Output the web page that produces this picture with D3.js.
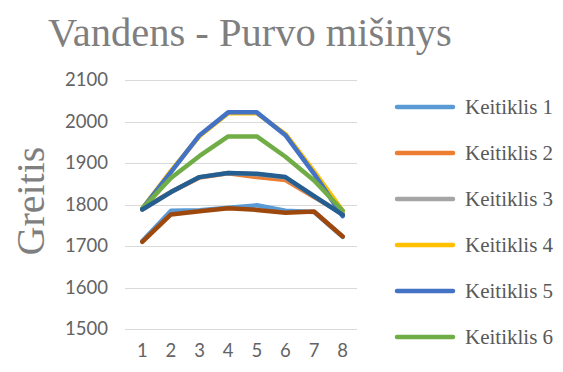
<!DOCTYPE html>
<html>
<head>
<meta charset="utf-8">
<script src="https://cdn.jsdelivr.net/npm/d3@7"></script>
<style>
  html, body { margin: 0; padding: 0; background: #fff; }
  svg { display: block; }
</style>
</head>
<body>
<svg id="chart" width="563" height="372"></svg>
<script>
// Measurement points along the x axis
const categories = ["1", "2", "3", "4", "5", "6", "7", "8"];

// Speed readings per converter (Keitiklis)
const keitiklis1 = [1712, 1785, 1786, 1792, 1798, 1785, 1782, 1722];
const keitiklis2 = [1790, 1830, 1865, 1875, 1866, 1859, 1818, 1778];
const keitiklis3 = [1788, 1830, 1866, 1876, 1873, 1865, 1820, 1776];
const keitiklis4 = [1790, 1881, 1965, 2020, 2020, 1970, 1880, 1785];
const keitiklis5 = [1790, 1878, 1967, 2022, 2022, 1967, 1874, 1772];
const keitiklis6 = [1790, 1864, 1917, 1964, 1964, 1915, 1858, 1785];
const keitiklis7 = [1788, 1830, 1866, 1876, 1874, 1866, 1820, 1775];
const keitiklis8 = [1710, 1776, 1784, 1791, 1787, 1780, 1783, 1723];

const seriesNames = ["Keitiklis 1", "Keitiklis 2", "Keitiklis 3", "Keitiklis 4",
                     "Keitiklis 5", "Keitiklis 6", "Keitiklis 7", "Keitiklis 8"];
const seriesValues = [keitiklis1, keitiklis2, keitiklis3, keitiklis4,
                      keitiklis5, keitiklis6, keitiklis7, keitiklis8];
const seriesColors = ["#5B9BD5", "#ED7D31", "#A5A5A5", "#FFC000",
                      "#4472C4", "#70AD47", "#255E91", "#9E480E"];

const yTicks = [1500, 1600, 1700, 1800, 1900, 2000, 2100];
const legendCount = 6;

const svg = d3.select("#chart");

const x = d3.scaleBand().domain(categories).range([128, 357]).padding(0);
const y = d3.scaleLinear().domain([1500, 2100]).range([329, 80]);

// Title
svg.append("text")
  .attr("x", 48).attr("y", 46)
  .attr("font-family", "'Liberation Serif', 'Times New Roman', serif")
  .attr("font-size", 40.5)
  .attr("fill", "#7f7f7f")
  .text("Vandens - Purvo mišinys");

// Axis title
svg.append("text")
  .attr("transform", "translate(44,201) rotate(-90)")
  .attr("text-anchor", "middle")
  .attr("font-family", "'Liberation Serif', 'Times New Roman', serif")
  .attr("font-size", 40)
  .attr("fill", "#7f7f7f")
  .text("Greitis");

// Horizontal gridlines
svg.append("g")
  .selectAll("line")
  .data(yTicks)
  .join("line")
  .attr("x1", 125).attr("x2", 357)
  .attr("y1", d => Math.round(y(d)) + 0.5)
  .attr("y2", d => Math.round(y(d)) + 0.5)
  .attr("stroke", "#d9d9d9")
  .attr("stroke-width", 1);

// Y axis labels
const yAxis = d3.axisLeft(y).tickValues(yTicks).tickSize(0).tickPadding(0).tickFormat(d3.format("d"));
const gy = svg.append("g").attr("transform", "translate(108,0)").call(yAxis);
gy.select(".domain").remove();
gy.selectAll("text")
  .attr("font-family", "Lato, 'Open Sans', sans-serif")
  .attr("font-size", 18.5)
  .attr("fill", "#636363");

// X axis labels
const xAxis = d3.axisBottom(x).tickSize(0).tickPadding(0);
const gx = svg.append("g").attr("transform", "translate(0,344)").call(xAxis);
gx.select(".domain").remove();
gx.selectAll("text")
  .attr("font-family", "Lato, 'Open Sans', sans-serif")
  .attr("font-size", 18.5)
  .attr("fill", "#636363");

// Series lines
const line = d3.line()
  .x((d, i) => x(categories[i]) + x.bandwidth() / 2)
  .y(d => y(d));

svg.append("g")
  .selectAll("path")
  .data(seriesValues)
  .join("path")
  .attr("d", d => line(d))
  .attr("fill", "none")
  .attr("stroke", (d, i) => seriesColors[i])
  .attr("stroke-width", 4.5)
  .attr("stroke-linejoin", "round")
  .attr("stroke-linecap", "round");

// Legend
const legend = svg.append("g")
  .selectAll("g")
  .data(seriesNames.slice(0, legendCount))
  .join("g")
  .attr("transform", (d, i) => `translate(397,${107 + i * 46})`);

legend.append("line")
  .attr("x1", 0).attr("x2", 56)
  .attr("y1", 0).attr("y2", 0)
  .attr("stroke", (d, i) => seriesColors[i])
  .attr("stroke-width", 4.5)
  .attr("stroke-linecap", "round");

legend.append("text")
  .attr("x", 68).attr("y", 7)
  .attr("font-family", "'Liberation Serif', 'Times New Roman', serif")
  .attr("font-size", 21)
  .attr("fill", "#595959")
  .text(d => d);
</script>
</body>
</html>
